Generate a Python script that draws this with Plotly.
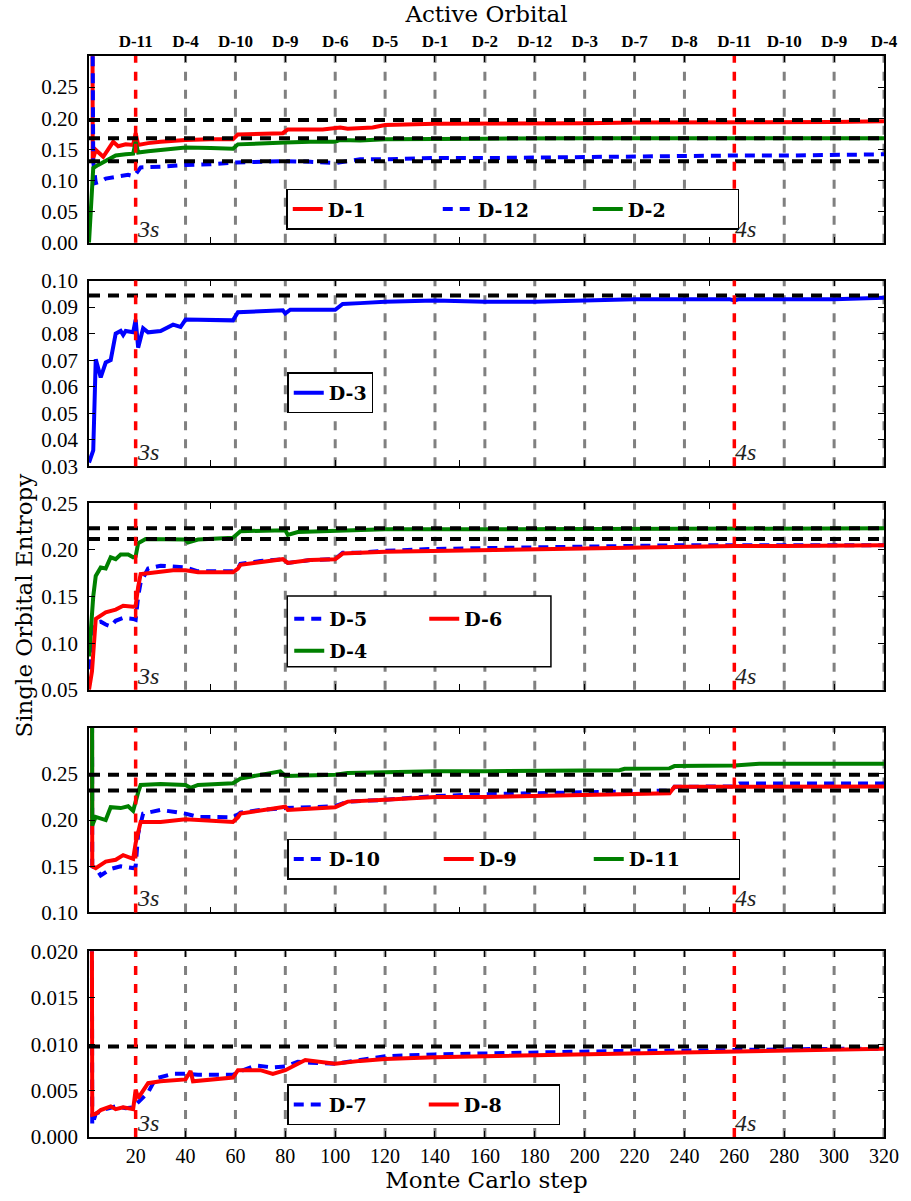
import plotly.graph_objects as go

# ---------------- data ----------------
steps_top = [20, 40, 60, 80, 100, 120, 140, 160, 180, 200, 220, 240, 260, 280, 300, 320]
orbital_labels = ["D-11", "D-4", "D-10", "D-9", "D-6", "D-5", "D-1", "D-2", "D-12", "D-3",
                  "D-7", "D-8", "D-11", "D-10", "D-9", "D-4"]
shell_steps = [20, 260]
shell_labels = ["3s", "4s"]

# Panel 1
d1_x = [2.6, 2.8, 4, 5, 7, 9, 11, 13, 16, 19, 20, 21, 25, 30, 40, 50, 59, 61, 70, 79, 81, 95, 102, 105,
        115, 120, 140, 160, 180, 200, 220, 240, 258, 260, 262, 280, 300, 320]
d1_y = [0.6, 0.133, 0.149, 0.145, 0.138, 0.150, 0.162, 0.155, 0.158, 0.157, 0.176, 0.157, 0.160, 0.162,
        0.165, 0.166, 0.166, 0.174, 0.175, 0.176, 0.182, 0.182, 0.185, 0.183, 0.185, 0.189, 0.191, 0.191,
        0.192, 0.192, 0.193, 0.193, 0.194, 0.193, 0.194, 0.194, 0.194, 0.195]
d12_x = [2.4, 2.6, 3, 4, 6, 8, 12, 17, 19, 20, 22, 30, 40, 50, 60, 70, 80, 90, 100, 105, 110, 120, 140,
         160, 180, 200, 220, 240, 260, 280, 300, 320]
d12_y = [0.6, 0.14, 0.13, 0.096, 0.098, 0.103, 0.105, 0.109, 0.107, 0.110, 0.121, 0.122, 0.125, 0.126,
         0.129, 0.130, 0.131, 0.130, 0.128, 0.131, 0.134, 0.134, 0.136, 0.136, 0.137, 0.138, 0.138, 0.139,
         0.140, 0.140, 0.141, 0.142]
d2_x = [1.3, 2.5, 3, 5, 8, 12, 16, 19, 20, 21, 25, 30, 40, 50, 59, 61, 70, 80, 90, 100, 102, 110, 120,
        140, 160, 200, 240, 260, 280, 320]
d2_y = [0.0, 0.08, 0.12, 0.125, 0.132, 0.140, 0.142, 0.143, 0.162, 0.145, 0.147, 0.149, 0.153, 0.152,
        0.151, 0.158, 0.160, 0.161, 0.162, 0.162, 0.165, 0.164, 0.166, 0.167, 0.167, 0.168, 0.168, 0.167,
        0.168, 0.168]
ref1 = [0.197, 0.168, 0.131]

# Panel 2
d3_x = [1.3, 3, 4, 6, 8, 10, 12, 14, 15, 16, 19, 20, 21, 23, 25, 30, 35, 38, 40, 50, 59, 61, 70, 79,
        80, 82, 100, 103, 110, 120, 140, 160, 180, 200, 220, 240, 258, 260, 262, 280, 300, 320]
d3_y = [0.0314, 0.036, 0.0703, 0.0635, 0.0691, 0.070, 0.080, 0.081, 0.0795, 0.081, 0.0805, 0.0853,
        0.0747, 0.082, 0.0805, 0.081, 0.0834, 0.0825, 0.0853, 0.085, 0.085, 0.0881, 0.0885, 0.0888,
        0.0876, 0.089, 0.089, 0.0912, 0.0915, 0.092, 0.0925, 0.092, 0.092, 0.0925, 0.093, 0.093, 0.093,
        0.0925, 0.093, 0.093, 0.093, 0.0935]
ref2 = [0.0944]

# Panel 3
d5_x = [1.3, 3, 4, 6, 8, 10, 12, 15, 19, 20, 21, 22, 25, 30, 40, 45, 50, 59, 61, 62, 70, 79, 81, 90,
        100, 103, 110, 120, 140, 160, 180, 200, 220, 240, 260, 280, 300, 320]
d5_y = [0.072, 0.11, 0.122, 0.123, 0.120, 0.118, 0.124, 0.127, 0.126, 0.125, 0.150, 0.165, 0.180,
        0.183, 0.181, 0.177, 0.177, 0.177, 0.180, 0.185, 0.188, 0.190, 0.186, 0.189, 0.190, 0.197,
        0.197, 0.199, 0.201, 0.202, 0.203, 0.204, 0.205, 0.205, 0.205, 0.205, 0.205, 0.205]
d6_x = [1.3, 2.5, 4, 8, 12, 15, 19, 20, 21, 22, 25, 35, 40, 45, 59, 61, 62, 70, 79, 81, 90, 100, 103,
        120, 140, 160, 180, 200, 220, 240, 260, 280, 300, 320]
d6_y = [0.05, 0.07, 0.126, 0.133, 0.136, 0.140, 0.139, 0.140, 0.160, 0.174, 0.175, 0.178, 0.178,
        0.176, 0.176, 0.180, 0.184, 0.187, 0.190, 0.186, 0.189, 0.190, 0.196, 0.198, 0.199, 0.200,
        0.201, 0.202, 0.203, 0.203, 0.204, 0.204, 0.204, 0.205]
d4_x = [1.3, 3, 4, 6, 8, 10, 12, 14, 17, 19, 20, 21, 24, 30, 40, 41, 45, 59, 61, 62, 80, 81, 85, 100,
        105, 120, 140, 160, 200, 240, 260, 280, 320]
d4_y = [0.0858, 0.15, 0.172, 0.181, 0.180, 0.192, 0.190, 0.195, 0.195, 0.192, 0.193, 0.207, 0.2115,
        0.211, 0.211, 0.208, 0.211, 0.213, 0.217, 0.220, 0.221, 0.216, 0.219, 0.220, 0.221, 0.222,
        0.222, 0.222, 0.223, 0.223, 0.223, 0.223, 0.223]
ref3 = [0.223, 0.2115]

# Panel 4
d10_x = [2.4, 2.6, 4, 6, 10, 14, 19, 20, 21, 23, 30, 40, 45, 59, 61, 62, 70, 80, 100, 105, 120, 140,
         160, 180, 200, 220, 235, 236, 260, 262, 280, 300, 320]
d10_y = [0.6, 0.15, 0.148, 0.140, 0.147, 0.150, 0.148, 0.150, 0.185, 0.207, 0.211, 0.207, 0.2035,
         0.203, 0.206, 0.208, 0.211, 0.213, 0.215, 0.220, 0.222, 0.226, 0.228, 0.229, 0.230, 0.231,
         0.232, 0.236, 0.2365, 0.2395, 0.2395, 0.2395, 0.2395]
d9_x = [2.4, 2.6, 4, 8, 12, 15, 19, 20, 22, 30, 40, 59, 61, 62, 80, 81, 100, 105, 120, 140, 160, 180,
        200, 215, 234, 236, 260, 280, 300, 320]
d9_y = [0.6, 0.150, 0.148, 0.155, 0.157, 0.162, 0.158, 0.175, 0.198, 0.198, 0.201, 0.198, 0.203,
        0.207, 0.2145, 0.211, 0.214, 0.220, 0.222, 0.225, 0.225, 0.226, 0.227, 0.228, 0.229, 0.236,
        0.236, 0.236, 0.2365, 0.2365]
d11_x = [2.4, 2.6, 4, 8, 10, 14, 17, 19, 21, 22, 30, 40, 42, 45, 59, 61, 62, 70, 78, 80, 100, 105, 120,
         140, 160, 180, 200, 214, 216, 234, 236, 260, 270, 280, 320]
d11_y = [0.6, 0.194, 0.2035, 0.200, 0.214, 0.213, 0.215, 0.210, 0.230, 0.238, 0.239, 0.238, 0.235,
         0.238, 0.240, 0.243, 0.245, 0.249, 0.2528, 0.2478, 0.249, 0.251, 0.252, 0.253, 0.253, 0.2535,
         0.2538, 0.254, 0.2555, 0.256, 0.2585, 0.259, 0.261, 0.261, 0.261]
ref4 = [0.249, 0.232]

# Panel 5
d7_x = [2.4, 2.6, 4, 8, 12, 16, 19, 22, 25, 28, 35, 40, 45, 59, 62, 68, 75, 80, 85, 90, 100, 110, 120,
        140, 160, 180, 200, 220, 240, 260, 280, 300, 320]
d7_y = [0.03, 0.0013, 0.0025, 0.0030, 0.0033, 0.0031, 0.0032, 0.0040, 0.0048, 0.0063, 0.0068, 0.0068,
        0.0067, 0.0067, 0.0071, 0.0077, 0.0075, 0.0076, 0.0081, 0.0080, 0.0079, 0.0083, 0.0087, 0.0089,
        0.0090, 0.0092, 0.0092, 0.0093, 0.0093, 0.0094, 0.0094, 0.0095, 0.0095]
d8_x = [2.4, 2.6, 4, 6, 10, 12, 15, 19, 20, 21, 25, 30, 40, 42, 43, 50, 59, 61, 70, 75, 80, 88, 100,
        110, 120, 140, 160, 180, 200, 220, 240, 260, 280, 300, 320]
d8_y = [0.03, 0.0024, 0.0025, 0.0029, 0.0033, 0.0030, 0.0032, 0.0030, 0.0051, 0.0042, 0.0058, 0.0060,
        0.0062, 0.0071, 0.0060, 0.0062, 0.0064, 0.0072, 0.0072, 0.0068, 0.0072, 0.0083, 0.0079, 0.0082,
        0.0084, 0.0086, 0.0087, 0.0088, 0.0089, 0.0090, 0.0091, 0.0092, 0.0093, 0.0094, 0.0095]
ref5 = [0.00975]

# ---------------- styling ----------------
TICKFONT = "Liberation Serif"
TITLEFONT = "DejaVu Serif"
RED, BLUE, GREEN, GRAY = "#ff0000", "#0000ff", "#008000", "#808080"
LW = 4
DASH = "10px,7px"

W, H = 911, 1201
ML, MR, MT, MB = 89, 20, 56, 62
plot_h = H - MT - MB
plot_w = W - ML - MR


def px_x(px):
    return (px - ML) / plot_w


def px_y(py):
    return (H - MB - py) / plot_h


def dom(top_px, bot_px):
    return [px_y(bot_px), px_y(top_px)]


panels = [
    dict(dom=dom(56, 243), rng=[0, 0.30], ticks=[0.0, 0.05, 0.10, 0.15, 0.20, 0.25], fmt=".2f", refs=ref1),
    dict(dom=dom(281, 467), rng=[0.03, 0.10], ticks=[0.03, 0.04, 0.05, 0.06, 0.07, 0.08, 0.09, 0.10], fmt=".2f", refs=ref2),
    dict(dom=dom(504, 691), rng=[0.05, 0.25], ticks=[0.05, 0.10, 0.15, 0.20, 0.25], fmt=".2f", refs=ref3),
    dict(dom=dom(729, 914), rng=[0.10, 0.30], ticks=[0.10, 0.15, 0.20, 0.25], fmt=".2f", refs=ref4),
    dict(dom=dom(953, 1139), rng=[0.0, 0.020], ticks=[0.0, 0.005, 0.010, 0.015, 0.020], fmt=".3f", refs=ref5),
]

series = [
    (1, "D-1", d1_x, d1_y, RED, "solid", "legend"),
    (1, "D-12", d12_x, d12_y, BLUE, DASH, "legend"),
    (1, "D-2", d2_x, d2_y, GREEN, "solid", "legend"),
    (2, "D-3", d3_x, d3_y, BLUE, "solid", "legend2"),
    (3, "D-5", d5_x, d5_y, BLUE, DASH, "legend3"),
    (3, "D-6", d6_x, d6_y, RED, "solid", "legend3"),
    (3, "D-4", d4_x, d4_y, GREEN, "solid", "legend4"),
    (4, "D-10", d10_x, d10_y, BLUE, DASH, "legend5"),
    (4, "D-9", d9_x, d9_y, RED, "solid", "legend5"),
    (4, "D-11", d11_x, d11_y, GREEN, "solid", "legend5"),
    (5, "D-7", d7_x, d7_y, BLUE, DASH, "legend6"),
    (5, "D-8", d8_x, d8_y, RED, "solid", "legend6"),
]

fig = go.Figure()
for p, name, xs, ys, col, dash, leg in series:
    fig.add_trace(go.Scatter(
        x=xs, y=ys, mode="lines", name="<b>%s</b>" % name,
        line=dict(color=col, width=LW, dash=dash),
        xaxis="x" if p == 1 else "x%d" % p, yaxis="y" if p == 1 else "y%d" % p,
        legend=leg, showlegend=True, hoverinfo="skip",
    ))

# invisible carrier trace so the top "Active Orbital" axis is drawn
fig.add_trace(go.Scatter(x=steps_top, y=[None] * len(steps_top), mode="lines", xaxis="x6", yaxis="y",
                         showlegend=False, hoverinfo="skip"))

xr = [1.3, 320]
layout = dict(
    width=W, height=H,
    margin=dict(l=ML, r=MR, t=MT, b=MB),
    paper_bgcolor="white", plot_bgcolor="white",
    font=dict(family=TICKFONT, size=19, color="black"),
    shapes=[], annotations=[],
)

for i, pnl in enumerate(panels, start=1):
    sfx = "" if i == 1 else str(i)
    xa = dict(domain=[0, 1], range=xr, anchor="y" + sfx, showline=True, linecolor="black", linewidth=1.5,
              ticks="inside", ticklen=6, tickcolor="black", showgrid=False, zeroline=False)
    if i == 5:
        xa.update(tickvals=steps_top, mirror="ticks", showticklabels=True,
                  tickfont=dict(family=TICKFONT, size=20),
                  title=dict(text="Monte Carlo step", font=dict(family=TITLEFONT, size=23), standoff=6))
    else:
        xa.update(tickvals=[50, 100, 150, 200, 250, 300], showticklabels=False,
                  mirror=True if i == 1 else "ticks")
    ya = dict(domain=pnl["dom"], range=pnl["rng"], anchor="x" + sfx, tickvals=pnl["ticks"],
              tickformat=pnl["fmt"], showline=True, linecolor="black", linewidth=1.5, mirror="ticks",
              ticks="inside", ticklen=6, tickcolor="black", showgrid=False, zeroline=False,
              tickfont=dict(family=TICKFONT, size=21), ticklabelstandoff=5)
    layout["xaxis" + sfx] = xa
    layout["yaxis" + sfx] = ya

    xref = "x" + sfx
    ydom = "y" + sfx + " domain"
    for s in steps_top:
        if s in shell_steps:
            continue
        layout["shapes"].append(dict(type="line", xref=xref, yref=ydom, x0=s, x1=s, y0=0, y1=1,
                                     line=dict(color=GRAY, width=3, dash="9px,9px"), layer="below"))
    for r in pnl["refs"]:
        layout["shapes"].append(dict(type="line", xref=xref + " domain", yref="y" + sfx, x0=0, x1=1,
                                     y0=r, y1=r, line=dict(color="black", width=4, dash="11px,8px"),
                                     layer="above"))
    for s, lab in zip(shell_steps, shell_labels):
        layout["shapes"].append(dict(type="line", xref=xref, yref=ydom, x0=s, x1=s, y0=0, y1=1,
                                     line=dict(color=RED, width=3.5, dash="9px,9px"), layer="above"))
        layout["annotations"].append(dict(x=s, y=0, xref=xref, yref=ydom, xanchor="left", yanchor="bottom",
                                          text="<i>%s</i>" % lab, showarrow=False, xshift=-1, yshift=-1,
                                          font=dict(family=TICKFONT, size=24, color="#222222")))

# top axis with active orbital labels
layout["xaxis6"] = dict(overlaying="x", anchor="y", side="top", range=xr, tickvals=steps_top,
                        ticktext=["<b>%s</b>" % t for t in orbital_labels], ticks="inside", ticklen=6,
                        tickcolor="black", showgrid=False, zeroline=False, showline=False,
                        tickfont=dict(family=TICKFONT, size=17), ticklabelstandoff=5,
                        title=dict(text="Active Orbital", font=dict(family=TITLEFONT, size=23), standoff=2))

layout["annotations"].append(dict(x=px_x(23), y=px_y(607), xref="paper", yref="paper",
                                  xanchor="center", yanchor="middle",
                                  text="Single Orbital Entropy", textangle=-90,
                                  showarrow=False, font=dict(family=TITLEFONT, size=23)))

leg_common = dict(orientation="h", xanchor="left", yanchor="top", bgcolor="white",
                  font=dict(family=TITLEFONT, size=19), itemwidth=30)
layout["legend"] = dict(leg_common, x=px_x(288), y=px_y(189), bordercolor="black", borderwidth=1.5,
                        entrywidth=105)
layout["legend2"] = dict(leg_common, x=px_x(289), y=px_y(373), bordercolor="black", borderwidth=1.5)
layout["legend3"] = dict(leg_common, x=px_x(291), y=px_y(601), borderwidth=0, entrywidth=90,
                         bgcolor="rgba(0,0,0,0)")
layout["legend4"] = dict(leg_common, x=px_x(291), y=px_y(633), borderwidth=0, bgcolor="rgba(0,0,0,0)")
layout["legend5"] = dict(leg_common, x=px_x(289), y=px_y(840), bordercolor="black", borderwidth=1.5,
                         entrywidth=105)
layout["legend6"] = dict(leg_common, x=px_x(289), y=px_y(1086), bordercolor="black", borderwidth=1.5,
                         entrywidth=90)
layout["shapes"].append(dict(type="rect", xref="paper", yref="paper", x0=px_x(289), x1=px_x(555),
                             y0=px_y(668), y1=px_y(597), line=dict(color="black", width=1.5),
                             fillcolor="white", layer="above"))

fig.update_layout(**layout)
fig.write_html("out.html", post_script="document.body.style.margin='0';",
               config={"displayModeBar": False})
